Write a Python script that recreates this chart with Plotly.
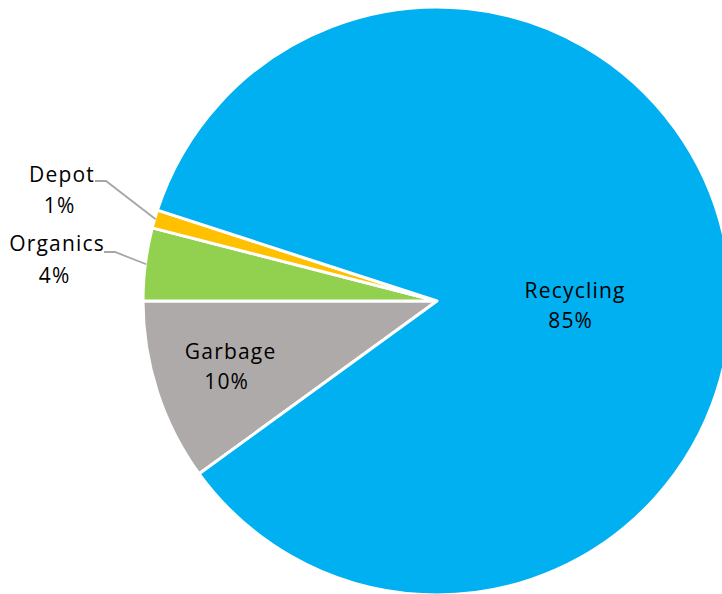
import math
import plotly.graph_objects as go

# ---- data ----
categories = ["Garbage", "Organics", "Depot", "Recycling"]
values = [10, 4, 1, 85]
colors = ["#AEAAAA", "#92D050", "#FFC000", "#00B0F0"]

# ---- layout constants (pixels) ----
W, H = 740, 600
CX, CY, R = 437, 301, 294
ROTATION = 234


def px(x):
    return x / W


def py(y):
    return 1 - y / H


fig = go.Figure(
    go.Pie(
        labels=categories,
        values=values,
        sort=False,
        direction="clockwise",
        rotation=ROTATION,
        marker=dict(colors=colors, line=dict(color="white", width=3)),
        textinfo="none",
        hoverinfo="label+percent",
        domain=dict(x=[px(CX - R), px(CX + R)], y=[py(CY + R), py(CY - R)]),
        showlegend=False,
    )
)

total = sum(values)
pct = {c: f"{round(v / total * 100)}%" for c, v in zip(categories, values)}

# label placement (pixel centres of name line and percent line)
label_pos = {
    "Depot": ((62, 174), (59, 205)),
    "Organics": ((57, 243), (54, 275)),
    "Garbage": ((230, 351), (226, 381)),
    "Recycling": ((575, 290), (570, 320)),
}
font = dict(family="Open Sans", size=21, color="#000000")
annotations = []
for c in categories:
    (nx, ny), (qx, qy) = label_pos[c]
    annotations.append(dict(x=px(nx), y=py(ny), xref="paper", yref="paper",
                            text=c, showarrow=False, font=font,
                            xanchor="center", yanchor="middle"))
    annotations.append(dict(x=px(qx), y=py(qy), xref="paper", yref="paper",
                            text=pct[c], showarrow=False, font=font,
                            xanchor="center", yanchor="middle"))

# leader lines for the small outside slices, ending at slice mid-angle on the rim
leader_start = {"Depot": (95, 181), "Organics": (104, 252)}
shapes = []
cum = 0
for c, v in zip(categories, values):
    mid = ROTATION + (cum + v / 2) / total * 360
    cum += v
    if c in leader_start:
        a = math.radians(mid)
        ex = CX + (R - 1) * math.sin(a)
        ey = CY - (R - 1) * math.cos(a)
        sx, sy = leader_start[c]
        path = f"M {px(sx)} {py(sy)} L {px(sx + 11)} {py(sy)} L {px(ex)} {py(ey)}"
        shapes.append(dict(type="path", xref="paper", yref="paper", path=path,
                           line=dict(color="#A6A6A6", width=1.8)))

fig.update_layout(
    width=W,
    height=H,
    margin=dict(l=0, r=0, t=0, b=0),
    paper_bgcolor="white",
    plot_bgcolor="white",
    annotations=annotations,
    shapes=shapes,
)

post = """
document.body.style.margin='0';
document.body.style.overflow='hidden';
document.documentElement.style.overflow='hidden';
function ls(){document.querySelectorAll('.annotation-text').forEach(function(e){e.style.letterSpacing='1.2px';});}
ls();
var gd=document.getElementById('{plot_id}');
if(gd && gd.on){gd.on('plotly_afterplot', ls);}
"""

fig.write_html("out.html", post_script=post, config={"displayModeBar": False})
